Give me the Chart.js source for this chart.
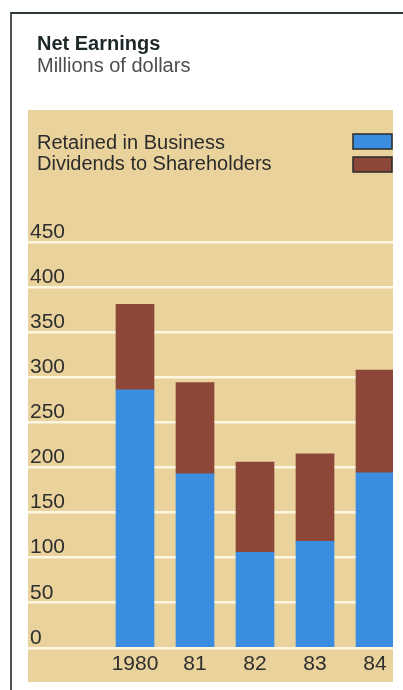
<!DOCTYPE html>
<html>
<head>
<meta charset="utf-8">
<script src="https://cdn.jsdelivr.net/npm/chart.js@4.4.1/dist/chart.umd.min.js"></script>
<style>
  body { margin: 0; background: #fff; }
  #wrap { position: relative; width: 403px; height: 690px; overflow: hidden; }
  #frame { position: absolute; left: 10px; top: 12px; right: 0; bottom: 0; border-top: 2px solid #2e3838; border-left: 2px solid #4a5252; }
  canvas { position: absolute; left: 0; top: 0; }
  .heading { position: absolute; left: 37px; font-family: "Liberation Sans", Arial, sans-serif; white-space: nowrap; }
  #title { top: 33px; font-size: 20px; line-height: 20px; font-weight: bold; color: #1d2828; }
  #subtitle { top: 55px; font-size: 20px; line-height: 20px; color: #4d4d4d; }
</style>
</head>
<body>
<div id="wrap">
  <div id="frame"></div>
  <canvas id="netEarnings" width="403" height="690"></canvas>
  <div class="heading" id="title">Net Earnings</div>
  <div class="heading" id="subtitle">Millions of dollars</div>
</div>
<script>
var years = [1980, 1981, 1982, 1983, 1984]
var yearLabels = ['1980', '81', '82', '83', '84']
var retained = [286, 193, 106, 118, 194]
var dividends = [95, 101, 100, 97, 114]
var seriesNames = ['Retained in Business', 'Dividends to Shareholders']
var seriesColors = ['#3b8de0', '#8d4738']

var font = '"Liberation Sans", Arial, sans-serif'

function points(values) {
    return years.map(function (year, i) {
        return { x: year, y: values[i] }
    })
}

// tan panel behind the plot, legend and year labels
var panel = {
    id: 'panel',
    beforeDraw: function (chart) {
        var ctx = chart.ctx
        ctx.save()
        ctx.fillStyle = '#e9d29c'
        ctx.fillRect(28, 110, 365, 572)
        ctx.restore()
    }
}

// legend: names on the left, swatches against the right edge
var sideLegend = {
    id: 'sideLegend',
    afterDraw: function (chart) {
        var ctx = chart.ctx
        ctx.save()
        ctx.font = '20px ' + font
        ctx.textBaseline = 'alphabetic'
        ctx.lineWidth = 1.5
        ctx.strokeStyle = '#2a2a2a'
        chart.data.datasets.forEach(function (ds, i) {
            ctx.fillStyle = '#2b2b2b'
            ctx.fillText(ds.label, 37, 149 + i * 21)
            ctx.fillStyle = ds.backgroundColor
            ctx.fillRect(353, 134 + i * 23, 39, 15)
            ctx.strokeRect(353, 134 + i * 23, 39, 15)
        })
        ctx.restore()
    }
}

var datasets = [retained, dividends].map(function (values, i) {
    return {
        label: seriesNames[i],
        data: points(values),
        backgroundColor: seriesColors[i],
        borderWidth: 0,
        barThickness: 38
    }
})

new Chart(document.getElementById('netEarnings'), {
    type: 'bar',
    data: { datasets: datasets },
    plugins: [panel, sideLegend],
    options: {
        responsive: false,
        animation: false,
        layout: { padding: { left: 24, right: 10, top: 242, bottom: 9 } },
        plugins: {
            legend: { display: false },
            tooltip: { enabled: false }
        },
        scales: {
            x: {
                type: 'linear',
                stacked: true,
                offset: false,
                min: 1978.2167,
                max: 1984.3,
                afterBuildTicks: function (scale) {
                    scale.ticks = years.map(function (v) { return { value: v } })
                },
                grid: { display: false, offset: false, drawTicks: false },
                border: { display: false },
                ticks: {
                    padding: 4,
                    color: '#2e2e2e',
                    font: { family: font, size: 21 },
                    callback: function (value) {
                        return yearLabels[years.indexOf(value)]
                    }
                }
            },
            y: {
                stacked: true,
                min: 0,
                max: 450,
                grid: { color: '#fcf6e2', lineWidth: 2.5, drawTicks: false },
                border: { display: false },
                ticks: {
                    stepSize: 50,
                    mirror: true,
                    padding: 2,
                    labelOffset: -10,
                    color: '#2e2e2e',
                    font: { family: font, size: 21 }
                }
            }
        }
    }
})
</script>
</body>
</html>
